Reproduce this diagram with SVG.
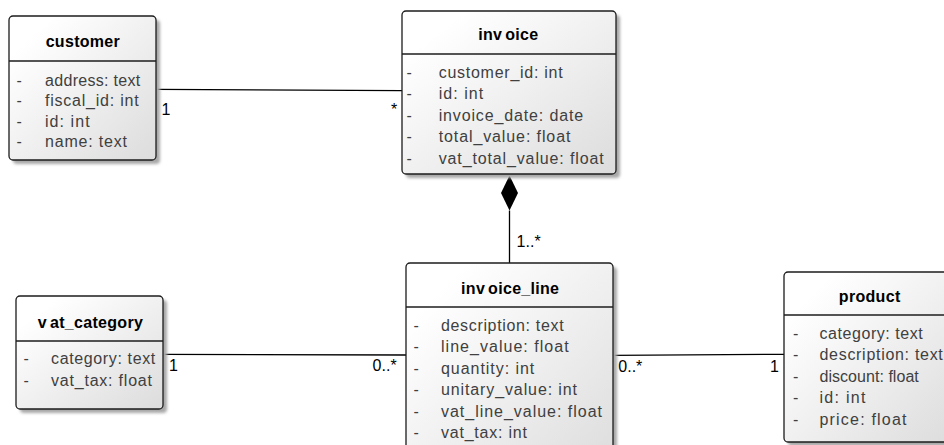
<svg xmlns="http://www.w3.org/2000/svg" width="944" height="445" viewBox="0 0 944 445">
  <defs>
    <linearGradient id="boxFill" x1="0" y1="0" x2="1" y2="1">
      <stop offset="0.15" stop-color="#ffffff"/>
      <stop offset="1" stop-color="#dcdcdc"/>
    </linearGradient>
    <filter id="soft" x="-10%" y="-10%" width="120%" height="120%">
      <feGaussianBlur stdDeviation="1.8"/>
    </filter>
    <style>
      .shadow { fill: #a8a8a8; filter: url(#soft); }
      .box { fill: url(#boxFill); stroke: #1c1c1c; stroke-width: 1.3; }
      .divider { stroke: #1c1c1c; stroke-width: 1.3; }
      .title { font-family: "Liberation Sans", Arial, sans-serif; font-size: 16px; font-weight: bold; fill: #000000; text-anchor: middle; letter-spacing: 0.3px; }
      .attr { font-family: "Liberation Sans", Arial, sans-serif; font-size: 16px; fill: #404040; }
      .mult { font-family: "Liberation Sans", Arial, sans-serif; font-size: 16px; fill: #000000; }
      .edge { stroke: #000000; stroke-width: 1.3; fill: none; }
    </style>
  </defs>

  <!-- associations -->
  <g id="connectors">
    <path class="edge" d="M156.5,89.3 L402,90.7"/>
    <path class="edge" d="M163,354.3 L406,355"/>
    <path class="edge" d="M613,355.3 L784,354.3"/>
    <path class="edge" d="M509.5,210.5 L509.5,263"/>
    <polygon points="509.5,175.5 501,193 509.5,210.5 518,193" fill="#000000"/>
    <text class="mult" x="161.6" y="114.5">1</text>
    <text class="mult" x="391" y="114.5">*</text>
    <text class="mult" x="516.6" y="246.7">1..*</text>
    <text class="mult" x="169" y="371">1</text>
    <text class="mult" x="372.6" y="371">0..*</text>
    <text class="mult" x="618.3" y="371.5">0..*</text>
    <text class="mult" x="770" y="371.5">1</text>
  </g>

  <!-- customer -->
  <g id="customer">
    <rect class="shadow" x="13" y="20" width="147" height="144" rx="4"/>
    <rect class="box" x="9" y="16" width="147" height="144" rx="4"/>
    <line class="divider" x1="9" y1="61" x2="156" y2="61"/>
    <text class="title" x="82.9" y="46.5">customer</text>
    <text class="attr" x="16.6" y="85.5">-</text>
    <text class="attr" x="45" y="85.5" textLength="95.3">address: text</text>
    <text class="attr" x="16.6" y="106">-</text>
    <text class="attr" x="45" y="106" textLength="93.6">fiscal_id: int</text>
    <text class="attr" x="16.6" y="126.5">-</text>
    <text class="attr" x="45" y="126.5" textLength="44.6">id: int</text>
    <text class="attr" x="16.6" y="147">-</text>
    <text class="attr" x="45" y="147" textLength="82">name: text</text>
  </g>

  <!-- invoice -->
  <g id="invoice">
    <rect class="shadow" x="406" y="15" width="214" height="163" rx="4"/>
    <rect class="box" x="402" y="11" width="214" height="163" rx="4"/>
    <line class="divider" x1="402" y1="54" x2="616" y2="54"/>
    <text class="title" x="508.3" y="40"><tspan>inv</tspan><tspan dx="3">oice</tspan></text>
    <text class="attr" x="406.6" y="77.5">-</text>
    <text class="attr" x="438.7" y="77.5" textLength="124">customer_id: int</text>
    <text class="attr" x="406.6" y="99">-</text>
    <text class="attr" x="438.7" y="99" textLength="44.4">id: int</text>
    <text class="attr" x="406.6" y="120.5">-</text>
    <text class="attr" x="438.7" y="120.5" textLength="144.4">invoice_date: date</text>
    <text class="attr" x="406.6" y="142">-</text>
    <text class="attr" x="438.7" y="142" textLength="131.7">total_value: float</text>
    <text class="attr" x="406.6" y="163.5">-</text>
    <text class="attr" x="438.7" y="163.5" textLength="165">vat_total_value: float</text>
  </g>

  <!-- invoice_line -->
  <g id="invoice_line">
    <rect class="shadow" x="410" y="267" width="207" height="210" rx="4"/>
    <rect class="box" x="406" y="263" width="207" height="210" rx="4"/>
    <line class="divider" x1="406" y1="307" x2="613" y2="307"/>
    <text class="title" x="510.2" y="294"><tspan>inv</tspan><tspan dx="3">oice_line</tspan></text>
    <text class="attr" x="413.6" y="330.5">-</text>
    <text class="attr" x="441" y="330.5" textLength="122.6">description: text</text>
    <text class="attr" x="413.6" y="352">-</text>
    <text class="attr" x="441" y="352" textLength="127.6">line_value: float</text>
    <text class="attr" x="413.6" y="373.5">-</text>
    <text class="attr" x="441" y="373.5" textLength="93.3">quantity: int</text>
    <text class="attr" x="413.6" y="395">-</text>
    <text class="attr" x="441" y="395" textLength="136">unitary_value: int</text>
    <text class="attr" x="413.6" y="416.5">-</text>
    <text class="attr" x="441" y="416.5" textLength="161">vat_line_value: float</text>
    <text class="attr" x="413.6" y="438">-</text>
    <text class="attr" x="441" y="438" textLength="86">vat_tax: int</text>
  </g>

  <!-- vat_category -->
  <g id="vat_category">
    <rect class="shadow" x="20" y="300" width="147" height="113" rx="4"/>
    <rect class="box" x="16" y="296" width="147" height="113" rx="4"/>
    <line class="divider" x1="16" y1="341" x2="163" y2="341"/>
    <text class="title" x="90.5" y="328"><tspan>v</tspan><tspan dx="3">at_category</tspan></text>
    <text class="attr" x="23.6" y="363.5">-</text>
    <text class="attr" x="51" y="363.5" textLength="104.3">category: text</text>
    <text class="attr" x="23.6" y="385.5">-</text>
    <text class="attr" x="51" y="385.5" textLength="101">vat_tax: float</text>
  </g>

  <!-- product -->
  <g id="product">
    <rect class="shadow" x="788" y="276" width="172" height="170" rx="4"/>
    <rect class="box" x="784" y="272" width="172" height="170" rx="4"/>
    <line class="divider" x1="784" y1="315" x2="956" y2="315"/>
    <text class="title" x="869.7" y="301.7">product</text>
    <text class="attr" x="793" y="338.7">-</text>
    <text class="attr" x="819.5" y="338.7" textLength="103.3">category: text</text>
    <text class="attr" x="793" y="360">-</text>
    <text class="attr" x="819.5" y="360" textLength="123.3">description: text</text>
    <text class="attr" x="793" y="381.5">-</text>
    <text class="attr" x="819.5" y="381.5" textLength="99.3">discount: float</text>
    <text class="attr" x="793" y="403">-</text>
    <text class="attr" x="819.5" y="403" textLength="46">id: int</text>
    <text class="attr" x="793" y="424.5">-</text>
    <text class="attr" x="819.5" y="424.5" textLength="87">price: float</text>
  </g>
</svg>
